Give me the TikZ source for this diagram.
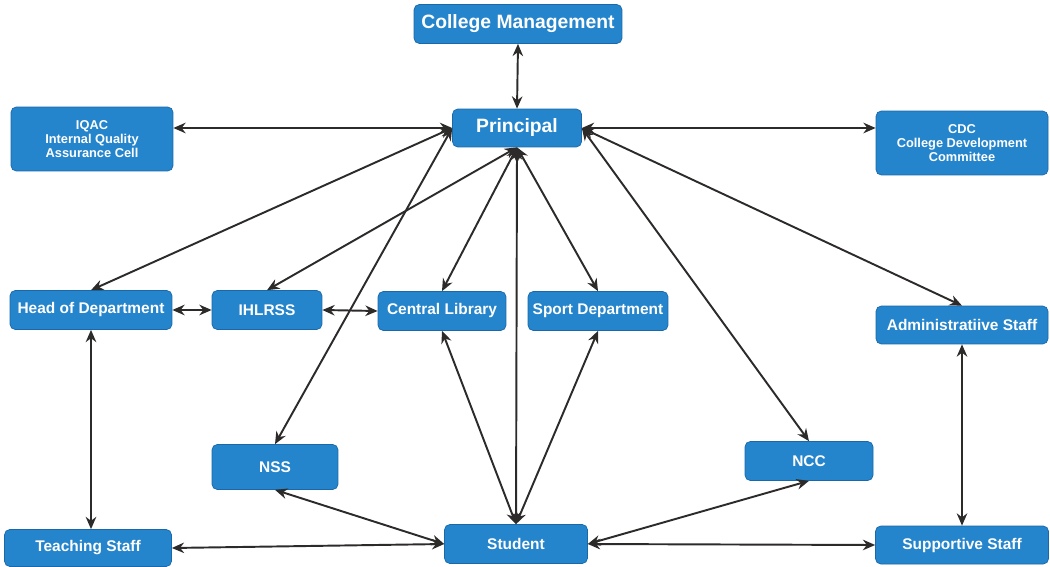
\documentclass[tikz,border=0pt]{standalone}
\usepackage{fontspec}
\setsansfont{Liberation Sans}
\usetikzlibrary{arrows.meta}

\definecolor{boxblue}{RGB}{36,132,204}
\definecolor{boxedge}{RGB}{26,104,168}
\definecolor{linkgray}{RGB}{45,42,42}

\tikzset{
  box/.style={draw=boxedge, fill=boxblue, rounded corners=3pt, text=white,
    font=\sffamily\bfseries\fontsize{8.8}{10}\selectfont, align=center, inner sep=0pt},
  bigbox/.style={box, font=\sffamily\bfseries\fontsize{11}{13}\selectfont},
  smallbox/.style={box, font=\sffamily\bfseries\fontsize{7.3}{8.2}\selectfont},
  link/.style={<->, >={Stealth[length=7pt,width=6pt]}, line width=1.1pt, draw=linkgray}
}

\begin{document}
\begin{tikzpicture}[x=0.02cm,y=-0.02cm]

\useasboundingbox (0,0) rectangle (1050,567);

% top
\node[bigbox, minimum width=4.16cm, minimum height=0.78cm] (cm) at (518,24) {College Management};
\node[bigbox, minimum width=2.58cm, minimum height=0.76cm] (principal) at (517,128) {Principal};
\node[smallbox, minimum width=3.24cm, minimum height=1.28cm] (iqac) at (92,139) {IQAC\\Internal Quality\\Assurance Cell};
\node[smallbox, minimum width=3.44cm, minimum height=1.28cm] (cdc) at (962,143) {CDC\\College Development\\Committee};

% middle row
\node[box, minimum width=3.24cm, minimum height=0.78cm] (hod) at (91,310) {Head of Department};
\node[box, minimum width=2.2cm, minimum height=0.78cm] (ihlrss) at (267,310) {IHLRSS};
\node[box, minimum width=2.56cm, minimum height=0.78cm] (library) at (442,311) {Central Library};
\node[box, minimum width=2.8cm, minimum height=0.78cm] (sport) at (598,311) {Sport Department};
\node[box, minimum width=3.44cm, minimum height=0.76cm] (admin) at (962,325) {Administratiive Staff};

\node[box, minimum width=2.52cm, minimum height=0.9cm] (nss) at (275,467) {NSS};
\node[box, minimum width=2.56cm, minimum height=0.78cm] (ncc) at (809,461) {NCC};

% bottom row
\node[box, minimum width=3.34cm, minimum height=0.74cm] (teaching) at (88,548) {Teaching Staff};
\node[box, minimum width=2.86cm, minimum height=0.78cm] (student) at (516,544) {Student};
\node[box, minimum width=3.46cm, minimum height=0.76cm] (supportive) at (962,545) {Supportive Staff};

% links from the principal
\draw[link] (cm.south) -- (principal.north);
\draw[link] (principal.west -| iqac.east) -- (principal.west);
\draw[link] (principal.east) -- (principal.east -| cdc.west);
\draw[link] (hod.north) -- (principal.west);
\draw[link] (nss.north) -- (principal.west);
\draw[link] (ihlrss.north) -- (principal.south);
\draw[link] (library.north) -- (principal.south);
\draw[link] (student.north) -- (principal.south);
\draw[link] (sport.north) -- (principal.south);
\draw[link] (ncc.north) -- (principal.east);
\draw[link] (admin.north) -- (principal.east);

% other links
\draw[link] (hod.east) -- (ihlrss.west);
\draw[link] (ihlrss.east) -- (library.west);
\draw[link] (hod.south) -- (hod.south |- teaching.north);
\draw[link] (admin.south) -- (admin.south |- supportive.north);
\draw[link] (library.south) -- (student.north);
\draw[link] (sport.south) -- (student.north);
\draw[link] (nss.south) -- (student.west);
\draw[link] (ncc.south) -- (student.east);
\draw[link] (teaching.east) -- (student.west);
\draw[link] (student.east) -- (supportive.west);
\end{tikzpicture}
\end{document}
